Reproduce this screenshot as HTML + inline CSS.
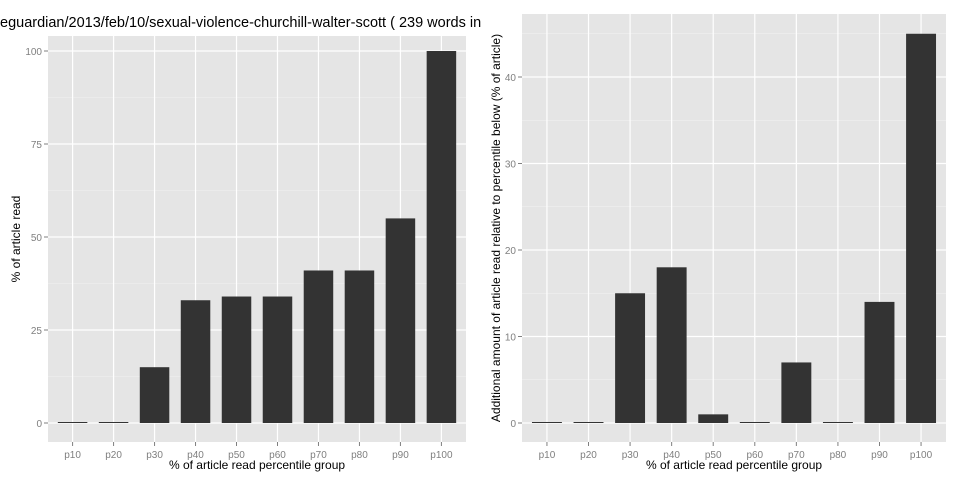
<!DOCTYPE html>
<html><head><meta charset="utf-8"><style>
body{margin:0;background:#fff;font-family:"Liberation Sans",sans-serif}
svg text{font-family:"Liberation Sans",sans-serif}
</style></head><body>
<svg id="c" width="960" height="480" xmlns="http://www.w3.org/2000/svg">
<text x="0" y="27" font-size="14.5" fill="#000">eguardian/2013/feb/10/sexual-violence-churchill-walter-scott ( 239 words in</text>
</svg>
<script>
const categories=["p10","p20","p30","p40","p50","p60","p70","p80","p90","p100"];
const leftValues=[0,0,15,33,34,34,41,41,55,100];
const rightValues=[0,0,15,18,1,0,7,0,14,45];
const leftTicks=[0,25,50,75,100];
const rightTicks=[0,10,20,30,40];
const svg=document.getElementById('c');
const NS="http://www.w3.org/2000/svg";
function mk(t,a,p){const e=document.createElementNS(NS,t);for(const k in a)e.setAttribute(k,a[k]);(p||svg).appendChild(e);return e;}
function panel(name,x0,x1,y0,y1,vals,ticks,pxPerUnit,ylab,ylabX){
  const g=mk('g',{});
  
  
  mk('rect',{x:x0,y:y0,width:x1-x0,height:y1-y0,fill:'#e5e5e5'},g);
  const base=423;
  const step=(x1-x0)/(categories.length+0.2);
  const xs=i=>x0+step*(0.6+i);
  const ys=v=>base-v*pxPerUnit;
  const dt=ticks[1]-ticks[0];
  for(let m=ticks[0]-dt/2;ys(m)>y0;m+=dt){if(ys(m)<y1)mk('line',{x1:x0,x2:x1,y1:ys(m),y2:ys(m),stroke:'#f2f2f2','stroke-width':0.6},g);}
  ticks.forEach(t=>{
    mk('line',{x1:x0,x2:x1,y1:ys(t),y2:ys(t),stroke:'#fff','stroke-width':1.2},g);
    mk('line',{x1:x0-4,x2:x0,y1:ys(t),y2:ys(t),stroke:'#7f7f7f'},g);
    const tx=mk('text',{x:x0-6,y:ys(t)+4,'font-size':10,fill:'#7f7f7f','text-anchor':'end'},g);tx.textContent=t;
    
    
  });
  categories.forEach((c,i)=>{
    const cx=xs(i);
    mk('line',{x1:cx,x2:cx,y1:y0,y2:y1,stroke:'#fff','stroke-width':1.2},g);
  });
  categories.forEach((c,i)=>{
    const cx=xs(i),w=step*0.72,yv=ys(vals[i]);
    const h=Math.max(base-yv,1);
    const r=mk('rect',{x:cx-w/2,y:base-h,width:w,height:h,fill:'#333'},g);
    
    
    mk('line',{x1:cx,x2:cx,y1:y1,y2:y1+4,stroke:'#7f7f7f'},g);
    const tx=mk('text',{x:cx,y:y1+16,'font-size':10,fill:'#7f7f7f','text-anchor':'middle'},g);tx.textContent=c;
    
    
  });
  const xl=mk('text',{x:(x0+x1)/2,y:469,'font-size':12,fill:'#000','text-anchor':'middle'},g);xl.textContent='% of article read percentile group';
  
  
  const cy=(y0+y1)/2;
  const yl=mk('text',{x:ylabX,y:cy,'font-size':12,fill:'#000','text-anchor':'middle',transform:'rotate(-90 '+ylabX+' '+cy+')'},g);yl.textContent=ylab;
  
  
}
panel('left-panel',48,466,36,442,leftValues,leftTicks,3.72,'% of article read',20);
panel('right-panel',522,946,14,442,rightValues,rightTicks,8.65,'Additional amount of article read relative to percentile below (% of article)',500);
</script>
</body></html>
